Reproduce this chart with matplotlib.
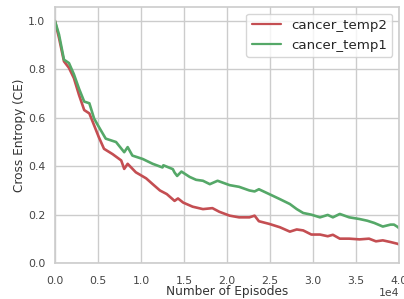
import matplotlib
matplotlib.use("Agg")
import matplotlib.pyplot as plt
import seaborn as sns

# Data (episodes, cross entropy)
temp2_x = [0, 470, 1050, 1630, 2200, 2800, 3400, 4000, 4550, 5100, 5700, 6700, 7700, 8050, 8450,
           9400, 10600, 11360, 12200, 13000, 13900, 14300, 14900, 16000, 17200, 18300, 19100,
           20300, 21400, 22600, 23200, 23700, 24900, 26150, 27300, 28100, 28850, 29800, 30800,
           31700, 32300, 33100, 34200, 35400, 36500, 37300, 38100, 39000, 39800, 40000]
temp2_y = [1.0, 0.93, 0.833, 0.806, 0.764, 0.694, 0.632, 0.618, 0.569, 0.52, 0.472, 0.45, 0.424,
           0.389, 0.41, 0.375, 0.35, 0.326, 0.30, 0.285, 0.257, 0.267, 0.25, 0.233, 0.223, 0.227,
           0.212, 0.196, 0.189, 0.189, 0.196, 0.173, 0.162, 0.148, 0.13, 0.139, 0.135, 0.118,
           0.118, 0.111, 0.117, 0.101, 0.101, 0.098, 0.101, 0.09, 0.094, 0.087, 0.08, 0.077]

temp1_x = [0, 470, 1050, 1630, 2200, 2800, 3400, 4000, 4550, 5100, 5900, 7100, 8050, 8450,
           9000, 10200, 11360, 12500, 12600, 13700, 13900, 14200, 14700, 15650, 16400, 17200,
           18000, 18900, 20300, 21400, 22600, 23200, 23700, 24900, 26150, 27300, 28100, 28850,
           29800, 30800, 31700, 32300, 33100, 34200, 35400, 36300, 37100, 38100, 39000, 39400,
           39800, 40000]
temp1_y = [1.0, 0.944, 0.84, 0.826, 0.78, 0.72, 0.667, 0.66, 0.597, 0.5625, 0.514, 0.50, 0.458,
           0.479, 0.444, 0.43, 0.41, 0.395, 0.404, 0.388, 0.374, 0.36, 0.378, 0.356, 0.344, 0.34,
           0.326, 0.34, 0.322, 0.315, 0.30, 0.296, 0.305, 0.285, 0.264, 0.244, 0.223, 0.207,
           0.20, 0.189, 0.199, 0.189, 0.203, 0.189, 0.182, 0.175, 0.166, 0.151, 0.159, 0.159,
           0.150, 0.144]

x_label = "Number of Episodes"
y_label = "Cross Entropy (CE)"
x_offset_label = "1e4"
labels = ["cancer_temp2", "cancer_temp1"]
colors = ["#c44e52", "#55a868"]

sns.set_theme(style="whitegrid")
plt.rcParams['font.family'] = ['DejaVu Sans']

fig = plt.figure(figsize=(4.04, 2.99), dpi=100)
ax = fig.add_axes([0.136, 0.120, 0.852, 0.857])

ax.plot(temp2_x, temp2_y, color=colors[0], lw=1.9, label=labels[0])
ax.plot(temp1_x, temp1_y, color=colors[1], lw=1.9, label=labels[1])

ax.set_xlim(0, 40000)
ax.set_ylim(0, 1.058)
xticks = [0, 5000, 10000, 15000, 20000, 25000, 30000, 35000, 40000]
ax.set_xticks(xticks)
ax.set_xticklabels([f"{t/1e4:.1f}" for t in xticks])
ax.set_yticks([0.0, 0.2, 0.4, 0.6, 0.8, 1.0])
ax.tick_params(labelsize=7.8, pad=7, length=0, colors='#444444')
ax.tick_params(axis='x', pad=9)
ax.set_xlabel(x_label, fontsize=8.7, color='#333333', labelpad=-0.3)
ax.set_ylabel(y_label, fontsize=8.7, color='#333333', labelpad=1.5)
ax.text(1.0, -0.097, x_offset_label, transform=ax.transAxes, ha='right', va='top',
        fontsize=7.8, color='#444444')
for s in ax.spines.values():
    s.set_color('#cccccc')
    s.set_linewidth(1.2)

leg = ax.legend(loc='upper right', fontsize=9.6, handlelength=2.2, handletextpad=0.75,
                borderaxespad=0.5)
leg.get_frame().set_edgecolor('#cccccc')
for h in leg.get_lines():
    h.set_linewidth(1.6)

fig.savefig("out.png", dpi=100)
